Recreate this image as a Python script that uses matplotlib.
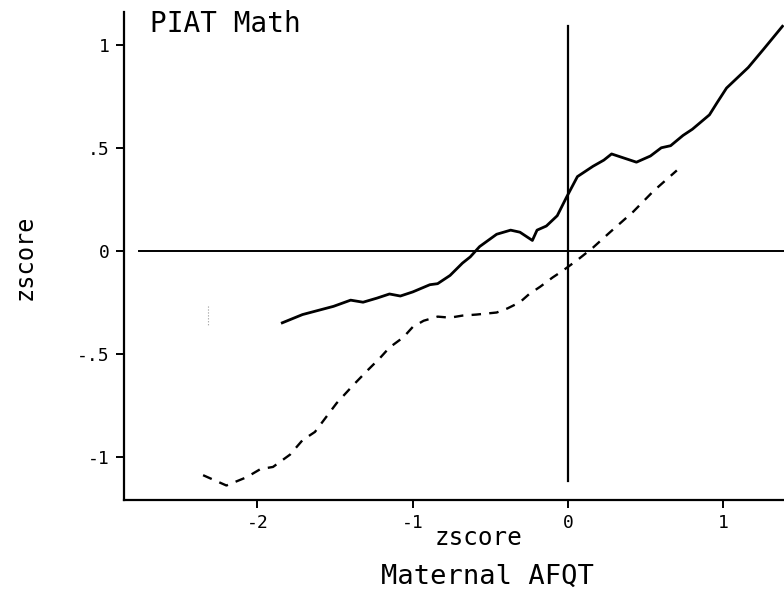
import numpy as np
import matplotlib.pyplot as plt

# solid curve (upper)
solid_x = [-1.84, -1.71, -1.51, -1.40, -1.32, -1.23, -1.15, -1.08, -1.00, -0.89,
           -0.84, -0.76, -0.68, -0.63, -0.57, -0.46, -0.37, -0.31, -0.23, -0.20,
           -0.14, -0.07, -0.01, 0.06, 0.16, 0.23, 0.28, 0.44, 0.53, 0.60,
           0.66, 0.74, 0.80, 0.91, 0.96, 1.02, 1.09, 1.16, 1.26, 1.38]
solid_y = [-0.35, -0.31, -0.27, -0.24, -0.25, -0.23, -0.21, -0.22, -0.20, -0.165,
           -0.16, -0.12, -0.06, -0.03, 0.02, 0.08, 0.10, 0.09, 0.05, 0.10,
           0.12, 0.17, 0.26, 0.36, 0.41, 0.44, 0.47, 0.43, 0.46, 0.50,
           0.51, 0.56, 0.59, 0.66, 0.72, 0.79, 0.84, 0.89, 0.98, 1.09]

# dashed curve (lower)
dash_x = [-2.35, -2.20, -2.07, -1.98, -1.90, -1.79, -1.71, -1.63, -1.56, -1.49,
          -1.38, -1.29, -1.21, -1.15, -1.06, -1.00, -0.93, -0.84, -0.76, -0.68,
          -0.59, -0.46, -0.39, -0.31, -0.25, -0.18, -0.10, -0.04, 0.06, 0.16,
          0.27, 0.42, 0.55, 0.70]
dash_y = [-1.09, -1.14, -1.10, -1.06, -1.05, -0.99, -0.92, -0.88, -0.81, -0.74,
          -0.65, -0.58, -0.52, -0.47, -0.42, -0.37, -0.34, -0.32, -0.325, -0.315,
          -0.31, -0.30, -0.28, -0.25, -0.21, -0.175, -0.13, -0.10, -0.045, 0.015,
          0.09, 0.19, 0.29, 0.39]

xticks = [-2, -1, 0, 1]
xtick_labels = ["-2", "-1", "0", "1"]
yticks = [-1, -0.5, 0, 0.5, 1]
ytick_labels = ["-1", "-.5", "0", ".5", "1"]

plt.rcParams['font.family'] = ['DejaVu Sans Mono']

fig = plt.figure(figsize=(7.84, 5.93), dpi=100)
ax = fig.add_axes([0.158, 0.157, 0.842, 0.823])

ax.plot(solid_x, solid_y, color='black', lw=2.0, solid_joinstyle='round')
ax.plot(dash_x, dash_y, color='black', lw=1.7, linestyle=(0, (4, 3.5)))

# faint dotted mark at left
ax.plot([-2.32, -2.32], [-0.27, -0.36], color='0.6', lw=0.8, linestyle=':')

# reference lines
ax.plot([-2.76, 1.39], [0, 0], color='black', lw=1.4)
ax.plot([0, 0], [-1.12, 1.09], color='black', lw=1.6)

ax.set_xlim(-2.86, 1.39)
ax.set_ylim(-1.21, 1.16)

ax.spines['top'].set_visible(False)
ax.spines['right'].set_visible(False)
ax.spines['left'].set_linewidth(1.6)
ax.spines['bottom'].set_linewidth(1.6)

ax.set_xticks(xticks)
ax.set_xticklabels(xtick_labels)
ax.set_yticks(yticks)
ax.set_yticklabels(ytick_labels)
ax.tick_params(direction='out', length=6, width=1.4, labelsize=13, pad=4)

fig.text(150 / 784, 1 - 24 / 593, "PIAT Math", fontsize=20, ha='left', va='center')

fig.text(478 / 784, 1 - 538 / 593, "zscore", fontsize=17.5, ha='center', va='center')
fig.text(487 / 784, 1 - 577 / 593, "Maternal AFQT", fontsize=19.5, ha='center', va='center')
fig.text(25 / 784, 1 - 257 / 593, "zscore", fontsize=17, ha='center', va='center',
         rotation=90)

fig.savefig("out.png", dpi=100)
